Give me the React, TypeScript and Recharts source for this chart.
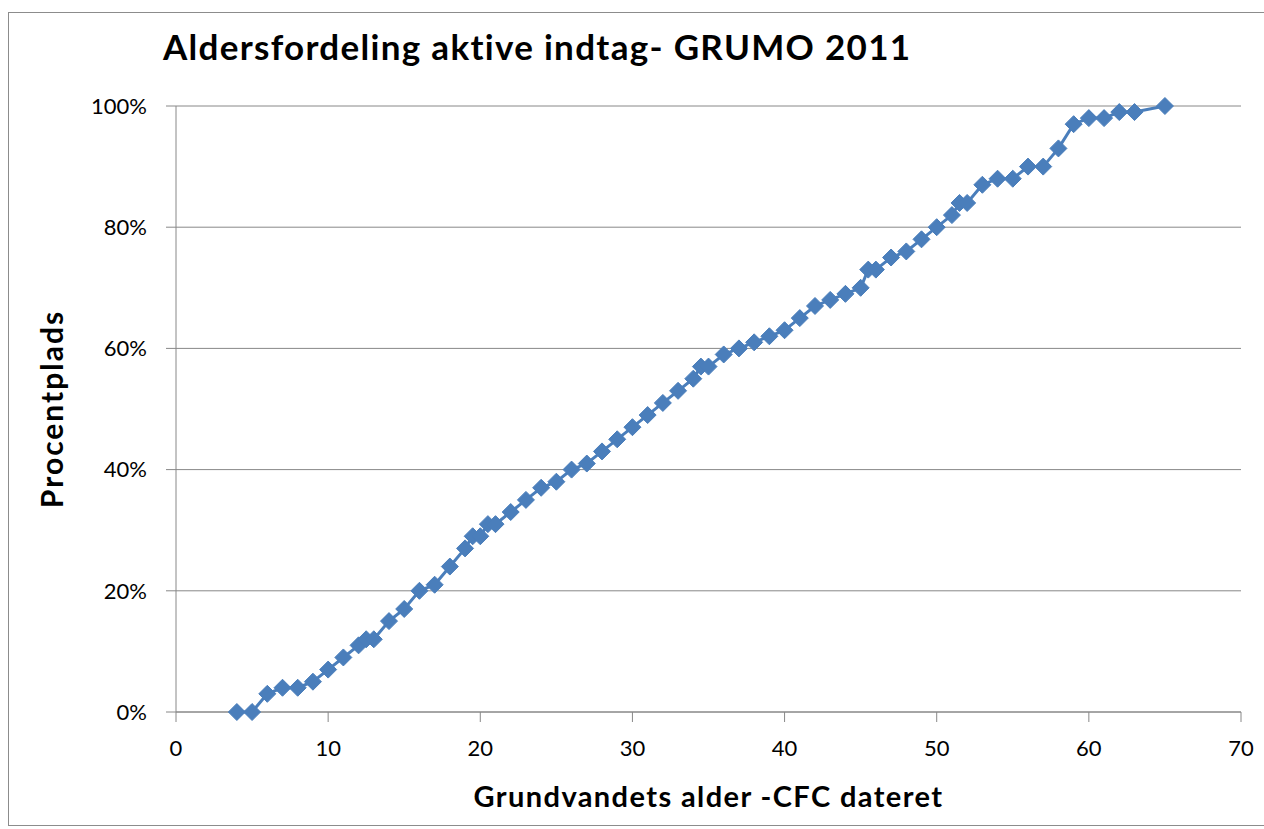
import { CartesianGrid, Label, Scatter, ScatterChart, XAxis, YAxis } from "recharts"

// alder (år) og procentplads (andel)
const ages = [
  4, 5, 6, 7, 8, 9, 10, 11, 12, 12.5, 13, 14, 15, 16, 17, 18, 19, 19.5, 20, 20.5, 21, 22, 23, 24, 25,
  26, 27, 28, 29, 30, 31, 32, 33, 34, 34.5, 35, 36, 37, 38, 39, 40, 41, 42, 43, 44, 45, 45.5, 46, 47,
  48, 49, 50, 51, 51.5, 52, 53, 54, 55, 56, 57, 58, 59, 60, 61, 62, 63, 65,
]
const pct = [
  0, 0, 3, 4, 4, 5, 7, 9, 11, 12, 12, 15, 17, 20, 21, 24, 27, 29, 29, 31, 31, 33, 35, 37, 38,
  40, 41, 43, 45, 47, 49, 51, 53, 55, 57, 57, 59, 60, 61, 62, 63, 65, 67, 68, 69, 70, 73, 73, 75,
  76, 78, 80, 82, 84, 84, 87, 88, 88, 90, 90, 93, 97, 98, 98, 99, 99, 100,
]
const xTicks = [0, 10, 20, 30, 40, 50, 60, 70]
const yTicks = [0, 0.2, 0.4, 0.6, 0.8, 1]

const data = ages.map((a, i) => ({ age: a, share: pct[i] / 100 }))

const BLUE = "#4a7ebb"
const GRID = "#888888"
const FONT = "Lato, 'Open Sans', sans-serif"

function Diamond(props: any) {
  const { cx, cy } = props
  if (cx == null || cy == null) return null
  const r = 8.5
  return (
    <polygon
      points={`${cx},${cy - r} ${cx + r},${cy} ${cx},${cy + r} ${cx - r},${cy}`}
      fill={BLUE}
      stroke={BLUE}
      strokeWidth={1}
    />
  )
}

export default function App() {
  return (
    <div style={{ position: "absolute", left: 0, top: 0, width: 1264, height: 829, background: "#fff", fontFamily: FONT }}>
      <div
        style={{
          position: "absolute",
          left: 8,
          top: 12,
          width: 1262,
          height: 814,
          border: "1px solid #8c8c8c",
          boxSizing: "border-box",
        }}
      />
      <div
        style={{
          position: "absolute",
          left: 163,
          top: 25,
          fontSize: 35,
          letterSpacing: 1.3,
          fontWeight: 700,
          color: "#000",
          whiteSpace: "nowrap",
        }}
      >
        Aldersfordeling aktive indtag- GRUMO 2011
      </div>
      <div style={{ position: "absolute", left: 0, top: 0 }}>
        <ScatterChart width={1264} height={829} margin={{ top: 106, right: 23, bottom: 0, left: 0 }}>
          <CartesianGrid horizontal vertical={false} stroke={GRID} strokeWidth={1} />
          <XAxis
            type="number"
            dataKey="age"
            domain={[0, 70]}
            ticks={xTicks}
            interval={0}
            height={117}
            tickSize={10}
            tickMargin={18}
            axisLine={{ stroke: GRID }}
            tickLine={{ stroke: GRID }}
            tick={{ fontSize: 22, fill: "#000", fontFamily: FONT }}
          >
            <Label
              value="Grundvandets alder -CFC dateret"
              position="insideBottom"
              offset={22}
              style={{ fontSize: 29, letterSpacing: 1.4, fontWeight: 700, fill: "#000", fontFamily: FONT }}
            />
          </XAxis>
          <YAxis
            type="number"
            dataKey="share"
            domain={[0, 1]}
            ticks={yTicks}
            interval={0}
            width={176}
            tickSize={10}
            tickMargin={19}
            tickFormatter={(v: number) => `${Math.round(v * 100)}%`}
            axisLine={{ stroke: GRID }}
            tickLine={{ stroke: GRID }}
            tick={{ fontSize: 22, fill: "#000", fontFamily: FONT }}
          >
            <Label
              value="Procentplads"
              angle={-90}
              position="insideLeft"
              offset={52}
              style={{ fontSize: 30, letterSpacing: 2, fontWeight: 700, fill: "#000", fontFamily: FONT, textAnchor: "middle" }}
            />
          </YAxis>
          <Scatter
            data={data}
            line={{ stroke: BLUE, strokeWidth: 3 }}
            shape={<Diamond />}
            fill={BLUE}
            isAnimationActive={false}
          />
        </ScatterChart>
      </div>
    </div>
  )
}
